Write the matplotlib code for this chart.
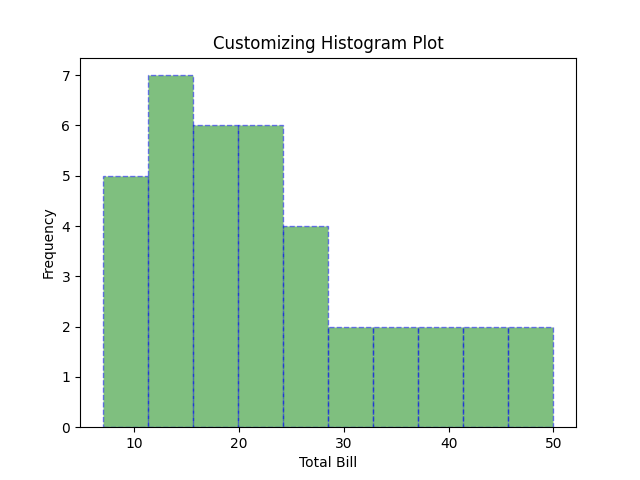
import matplotlib
matplotlib.use("Agg")
import matplotlib.pyplot as plt
import numpy as np

bin_edges = [7.0, 11.3, 15.6, 19.9, 24.2, 28.5, 32.8, 37.1, 41.4, 45.7, 50.0]
counts = [5, 7, 6, 6, 4, 2, 2, 2, 2, 2]

fig, ax = plt.subplots(figsize=(6.4, 4.8), dpi=100)
centers = [(bin_edges[i] + bin_edges[i + 1]) / 2 for i in range(len(counts))]
ax.hist(centers, bins=bin_edges, weights=counts, color='green', alpha=0.5,
        edgecolor='blue', linestyle='--')
ax.set_title('Customizing Histogram Plot')
ax.set_xlabel('Total Bill')
ax.set_ylabel('Frequency')
fig.savefig('out.png')
